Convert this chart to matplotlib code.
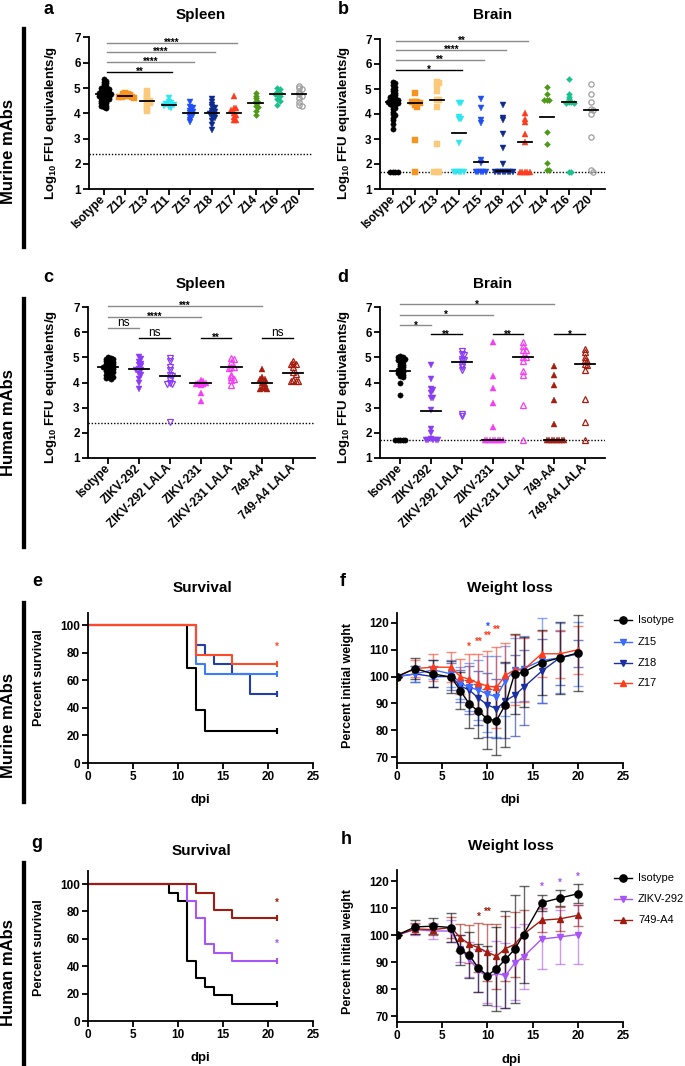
import numpy as np
import matplotlib.pyplot as plt
from matplotlib.lines import Line2D

plt.rcParams['font.family'] = ['Liberation Sans', 'DejaVu Sans']
plt.rcParams['font.weight'] = 'bold'
plt.rcParams['axes.linewidth'] = 1.3
plt.rcParams['xtick.major.width'] = 1.3
plt.rcParams['ytick.major.width'] = 1.3
plt.rcParams['xtick.major.size'] = 4
plt.rcParams['ytick.major.size'] = 4
plt.rcParams['xtick.labelsize'] = 8.5
plt.rcParams['ytick.labelsize'] = 8.5

# ---------------- data: viral burden (log10 FFU eq/g) ----------------
mur_groups = ['Isotype', 'Z12', 'Z13', 'Z11', 'Z15', 'Z18', 'Z17', 'Z14', 'Z16', 'Z20']
hum_groups = ['Isotype', 'ZIKV-292', 'ZIKV-292 LALA', 'ZIKV-231', 'ZIKV-231 LALA', '749-A4', '749-A4 LALA']

a_iso = [5.35, 5.3, 5.25, 5.2, 5.15, 5.1, 5.05, 5.0, 5.0, 4.95, 4.95, 4.9, 4.9, 4.85, 4.85, 4.8, 4.8, 4.8, 4.75,
         4.75, 4.75, 4.7, 4.7, 4.7, 4.65, 4.65, 4.6, 4.6, 4.55, 4.55, 4.5, 4.5, 4.45, 4.4, 4.4, 4.35, 4.3, 4.3, 4.25, 4.2]
a_z12 = [4.8, 4.78, 4.75, 4.72, 4.7, 4.68, 4.66, 4.65, 4.63, 4.62]
a_z13 = [4.9, 4.75, 4.65, 4.55, 4.5, 4.45, 4.4, 4.3, 4.2, 4.1]
a_z11 = [4.6, 4.45, 4.4, 4.38, 4.35, 4.33, 4.3, 4.3, 4.25, 4.2]
a_z15 = [4.45, 4.25, 4.2, 4.1, 4.05, 4.0, 3.95, 3.85, 3.75, 3.65]
a_z18 = [4.55, 4.45, 4.35, 4.25, 4.2, 4.1, 4.05, 4.0, 3.98, 3.95, 3.85, 3.8, 3.7, 3.55, 3.35]
a_z17 = [4.7, 4.2, 4.2, 4.15, 4.0, 3.95, 3.85, 3.75, 3.75]
a_z14 = [4.8, 4.7, 4.6, 4.5, 4.45, 4.4, 4.3, 4.25, 4.1, 3.95]
a_z16 = [5.0, 4.95, 4.85, 4.8, 4.75, 4.75, 4.7, 4.55, 4.5, 4.35]
a_z20 = [5.1, 5.0, 4.95, 4.85, 4.75, 4.7, 4.6, 4.45, 4.35, 4.3]
a_medians = [4.75, 4.7, 4.48, 4.33, 4.0, 4.02, 4.0, 4.43, 4.75, 4.75]
a_brackets = [(0, 3, 5.64, '**'), (0, 4, 6.03, '****'), (0, 5, 6.43, '****'), (0, 6, 6.8, '****')]

b_iso = [5.3, 5.25, 5.15, 5.1, 5.0, 4.95, 4.9, 4.85, 4.8, 4.75, 4.7, 4.7, 4.65, 4.6, 4.6, 4.55, 4.55, 4.5, 4.5, 4.5,
         4.45, 4.45, 4.4, 4.4, 4.35, 4.3, 4.25, 4.2, 4.1, 4.0, 3.95, 3.85, 3.75, 3.6, 3.4, 1.7, 1.7, 1.7, 1.7]
b_z12 = [4.85, 4.5, 4.45, 4.5, 4.35, 4.3, 4.5, 2.95, 1.7]
b_z13 = [5.3, 5.25, 5.15, 4.9, 4.55, 4.55, 4.3, 2.8, 1.7, 1.7, 1.7]
b_z11 = [4.45, 4.45, 3.9, 3.8, 3.8, 2.85, 1.7, 1.7, 1.7, 1.7, 1.7]
b_z15 = [4.6, 4.25, 3.75, 3.65, 2.15, 2.05, 1.7, 1.7, 1.7, 1.7, 1.7]
b_z18 = [4.35, 3.85, 3.75, 3.2, 2.65, 2.0, 1.7, 1.7, 1.7, 1.7, 1.7, 1.7, 1.7, 1.7]
b_z17 = [4.05, 3.8, 3.7, 3.2, 2.9, 1.7, 1.7, 1.7, 1.7, 1.7]
b_z14 = [5.1, 4.8, 4.55, 4.55, 4.55, 3.3, 2.8, 2.05, 1.75, 1.75]
b_z16 = [5.4, 4.8, 4.7, 4.6, 4.5, 4.5, 4.45, 4.45, 1.7, 1.7]
b_z20 = [5.2, 4.8, 4.5, 4.2, 4.15, 4.0, 3.1, 1.7, 1.75]
b_medians = [4.5, 4.45, 4.55, 3.25, 2.1, 1.72, 2.88, 3.9, 4.5, 4.15]
b_brackets = [(0, 3, 5.76, '*'), (0, 4, 6.16, '**'), (0, 5, 6.56, '****'), (0, 6, 6.92, '**')]

c_iso = [5.0, 4.98, 4.95, 4.92, 4.9, 4.88, 4.85, 4.82, 4.8, 4.78, 4.75, 4.72, 4.7, 4.68, 4.65, 4.62, 4.6, 4.6,
         4.58, 4.55, 4.52, 4.5, 4.48, 4.45, 4.42, 4.4, 4.35, 4.3, 4.28, 4.25, 4.22, 4.2, 4.18, 4.15]
c_292 = [5.0, 4.95, 4.8, 4.75, 4.7, 4.65, 4.55, 4.5, 4.5, 4.35, 4.3, 4.15, 4.0, 3.75]
c_292l = [4.98, 4.85, 4.6, 4.5, 4.28, 4.25, 4.1, 4.0, 3.95, 3.95, 2.42]
c_231 = [4.1, 4.05, 4.0, 4.0, 3.98, 3.95, 3.95, 3.9, 3.6, 3.25]
c_231l = [4.98, 4.95, 4.8, 4.6, 4.6, 4.58, 4.3, 4.2, 4.15, 4.1, 3.9]
c_a4 = [4.55, 4.2, 4.15, 4.15, 4.0, 3.95, 3.8, 3.8, 3.75, 3.75]
c_a4l = [4.85, 4.75, 4.75, 4.75, 4.6, 4.4, 4.35, 4.1, 4.05, 4.05, 4.05]
c_medians = [4.62, 4.52, 4.27, 3.98, 4.6, 3.97, 4.37]
c_brackets = [(0, 5, 7.04, '***'), (0, 3, 6.6, '****'), (0, 1, 6.17, 'ns'),
              (1, 2, 5.77, 'ns'), (3, 4, 5.77, '**'), (5, 6, 5.77, 'ns')]

d_iso = [5.05, 5.0, 5.0, 4.95, 4.92, 4.9, 4.88, 4.85, 4.8, 4.75, 4.7, 4.65, 4.6, 4.55, 4.5, 4.48, 4.45, 4.4,
         4.38, 4.35, 4.3, 4.25, 4.2, 4.0, 3.5, 1.7, 1.7, 1.7, 1.7, 1.7]
d_292 = [4.7, 4.15, 3.75, 3.7, 3.6, 3.4, 3.4, 2.9, 2.15, 2.0, 1.75, 1.7, 1.7, 1.7, 1.7, 1.7]
d_292l = [5.25, 5.15, 5.1, 4.95, 4.9, 4.85, 4.7, 4.6, 4.5, 2.75, 2.65]
d_231 = [5.6, 4.25, 3.8, 3.2, 2.25, 1.7, 1.7, 1.7, 1.7, 1.7, 1.7, 1.7, 1.7]
d_231l = [5.6, 5.45, 5.3, 5.3, 5.0, 5.0, 4.85, 4.45, 4.3, 3.1, 1.7]
d_a4 = [4.65, 4.3, 3.9, 3.3, 2.35, 1.7, 1.7, 1.7, 1.7, 1.7, 1.7, 1.7, 1.7]
d_a4l = [5.35, 5.2, 5.0, 4.9, 4.85, 4.75, 4.7, 4.5, 3.35, 2.45, 1.7]
d_medians = [4.47, 2.85, 4.8, 1.7, 5.0, 1.7, 4.75]
d_brackets = [(0, 5, 7.1, '*'), (0, 3, 6.68, '*'), (0, 1, 6.28, '*'),
              (1, 2, 5.92, '**'), (3, 4, 5.92, '**'), (5, 6, 5.92, '*')]

# ---------------- data: survival ----------------
e_iso_t = [0, 11, 12, 13, 21]
e_iso_s = [100, 69.2, 38.5, 23.1, 23.1]
e_z15_t = [0, 12, 13, 21]
e_z15_s = [100, 71.4, 64.3, 64.3]
e_z18_t = [0, 12, 13, 14, 16, 18, 21]
e_z18_s = [100, 85.7, 78.6, 71.4, 64.3, 50, 50]
e_z17_t = [0, 12, 16, 21]
e_z17_s = [100, 78.6, 71.4, 71.4]

g_iso_t = [0, 9, 10, 11, 12, 13, 14, 16, 21]
g_iso_s = [100, 93.75, 87.5, 43.75, 31.25, 25, 18.75, 12.5, 12.5]
g_292_t = [0, 11, 12, 13, 14, 16, 21]
g_292_s = [100, 87.5, 75, 56.25, 50, 43.75, 43.75]
g_a4_t = [0, 12, 14, 16, 21]
g_a4_s = [100, 93.75, 81.25, 75, 75]

# ---------------- data: weight ----------------
days = [0, 2, 4, 6, 7, 8, 9, 10, 11, 12, 13, 14, 16, 18, 20]
f_iso = [100, 103, 101, 99.8, 94.8, 89.8, 87.1, 84.2, 83.6, 89.6, 101, 101.6, 105.2, 107, 108.8]
f_iso_err = [0, 4, 5, 6, 7, 9, 10, 11, 13, 16, 15, 13, 12, 13.5, 14]
f_z15 = [100, 101, 102.5, 101, 97.5, 96, 95, 93.5, 92.5, 98.5, 102.5, 103, 106, 107, 108.5]
f_z15_err = [0, 3, 3.5, 5, 6, 9, 11, 14, 15, 13, 12, 12, 16, 13, 12]
f_z18 = [100, 101, 100, 100, 96.5, 95, 92, 89.5, 88, 91, 93, 96, 102, 107, 108.5]
f_z18_err = [0, 3, 4, 5, 6, 9, 10, 12, 11, 14, 15, 14, 12, 10, 5]
f_z17 = [100, 103, 103.5, 103.5, 100, 99, 97.5, 96.5, 96, 100.5, 102.5, 102.5, 108.5, 108.5, 110]
f_z17_err = [0, 3, 5, 5.5, 6.5, 9.5, 11, 13, 15, 12, 13, 12, 8.5, 9, 9]
f_stars = [(8, 111.2, '*', 'r'), (9, 112.8, '**', 'r'), (10, 115.3, '**', 'r'), (11, 117.6, '**', 'r'),
           (10, 118.6, '*', 'b')]

h_iso = [100, 103, 103.3, 102.8, 94.5, 92.5, 87.8, 85, 87.5, 91, 94.7, 100.2, 112, 113.7, 115.3]
h_iso_err = [0, 2.5, 3, 5.5, 5.5, 8.5, 9, 11, 15.5, 18, 20, 18, 3, 3, 3.5]
h_292 = [100, 102, 101.5, 101.5, 95, 91, 87, 84.5, 85.8, 85, 89.5, 92, 98.5, 99.3, 100.2]
h_292_err = [0, 2, 3, 4, 5, 6.5, 8, 9.5, 12, 12, 13.5, 12, 11, 10, 11]
h_a4 = [100, 102.3, 102, 102.8, 99, 96.7, 95.3, 93.6, 92.2, 95, 96.5, 100.3, 105.5, 106, 107.3]
h_a4_err = [0, 2, 2, 4, 5, 7, 9, 10.5, 12, 12, 12, 9, 4.5, 4.5, 4]
h_stars = [(9, 106.7, '*', 'r'), (10, 108.6, '**', 'r'), (16, 117.8, '*', 'p'), (18, 119.5, '*', 'p'),
           (20, 121.6, '*', 'p')]

# ---------------- styles ----------------
mur_colors = ['black', '#F7931E', '#FBC97A', '#2DE6F0', '#1F4FF5', '#0F2A8F', '#FF3B1C', '#4C9A15', '#19C28C', '#9E9E9E']
mur_markers = ['o', 's', 's', 'v', 'v', 'v', '^', 'D', 'D', 'o']
mur_open = [False] * 9 + [True]
hum_colors = ['black', '#8B3DF5', '#8B3DF5', '#F53DF5', '#F53DF5', '#A61C0E', '#A61C0E']
hum_markers = ['o', 'v', 'v', '^', '^', '^', '^']
hum_open = [False, False, True, False, True, False, True]
PURPLE = '#A855F7'
DARKRED = '#A01C10'
star_col = {'r': '#FF3B1C', 'b': '#1F4FF5', 'p': PURPLE}
star_col_h = {'r': DARKRED, 'p': PURPLE}

W, H = 685, 1066
fig = plt.figure(figsize=(W / 100, H / 100), dpi=100)


def px_axes(l, t, r, b):
    return fig.add_axes([l / W, 1 - b / H, (r - l) / W, (b - t) / H])


def ftext(x, y, s, **kw):
    fig.text(x / W, 1 - y / H, s, **kw)


def swarm(vals, px_x, px_y, d=2.5, step=1.25):
    vals = np.asarray(vals, float)
    offs = np.zeros(len(vals))
    placed = []
    cands = [0.0] + [s * j * step for j in range(1, 60) for s in (1, -1)]
    for i in np.argsort(-vals, kind='stable'):
        y = vals[i] * px_y
        for c in cands:
            if all((c - px) ** 2 + (y - py) ** 2 >= d * d for px, py in placed):
                break
        placed.append((c, y))
        offs[i] = c / px_x
    return offs


def style_axes(ax):
    ax.spines['top'].set_visible(False)
    ax.spines['right'].set_visible(False)
    ax.tick_params(pad=2)


def scatter_panel(ax, labels, data, medians, colors, markers, opens, px_x, lod, brackets, xlim, shift, murine):
    for i, vals in enumerate(data):
        vals = np.asarray(vals, float)
        offs = swarm(vals, px_x, 25.1)
        ms = {'o': 3.8, 's': 3.8, 'v': 4.4, '^': 4.4, 'D': 3.0}[markers[i]]
        ax.plot(i + offs, vals, linestyle='none', marker=markers[i], ms=ms,
                mfc='none' if opens[i] else colors[i], mec=colors[i],
                mew=0.9 if opens[i] else 0.3, zorder=3, clip_on=False)
        ax.plot([i - 0.33, i + 0.33], [medians[i]] * 2, color='black', lw=1.3, zorder=4)
    ax.axhline(lod, color='black', lw=1, ls=(0, (1, 1.3)), zorder=1)
    for k, (i, j, y, lab) in enumerate(brackets):
        gray = i == 0 and (k > 0 or not murine)
        ax.plot([i + shift, j + shift], [y, y], color='#8a8a8a' if gray else 'black', lw=1, clip_on=False)
        if lab == 'ns':
            ax.text((i + j) / 2 + shift, y + 0.07, lab, ha='center', va='baseline',
                    fontsize=8.5, fontweight='normal')
        else:
            ax.text((i + j) / 2 + shift, y - 0.13, lab, ha='center', va='baseline', fontsize=7)
    ax.set_xlim(*xlim)
    ax.set_ylim(1, 7)
    ax.set_yticks(range(1, 8))
    ax.set_xticks(range(len(labels)))
    ax.set_xticklabels(labels, rotation=45, ha='right', va='center', rotation_mode='anchor')
    ax.tick_params(axis='x', pad=5)
    style_axes(ax)


def survival_panel(ax, curves, stars):
    for t, s, col in curves:
        ax.step(t, s, where='post', color=col, lw=1.5)
        ax.plot(t[-1], s[-1], marker='|', ms=4, mew=1.5, color=col)
    for x, y, col in stars:
        ax.text(x, y, '*', color=col, ha='center', va='center', fontsize=7)
    ax.set_xlim(0, 25)
    ax.set_xticks(range(0, 26, 5))
    ax.set_yticks(range(0, 101, 20))
    style_axes(ax)


def weight_panel(ax, series, stars, ylim):
    for y, err, col, mk, ms in series:
        line, caps, bars = ax.errorbar(days, y, yerr=err, color=col, marker=mk, ms=ms, lw=1,
                                       elinewidth=1, capsize=3.5, capthick=1, ecolor=col)
        for art in list(caps) + list(bars):
            art.set_alpha(0.6)
    for x, y, lab, col in stars:
        ax.text(x, y, lab, color=col, ha='center', va='center', fontsize=7)
    ax.set_xlim(0, 25)
    ax.set_ylim(*ylim)
    ax.set_xticks(range(0, 26, 5))
    ax.set_yticks(range(70, 121, 10))
    style_axes(ax)


# panel a
ax = px_axes(89, 37.5, 313, 189.3)
scatter_panel(ax, mur_groups, [a_iso, a_z12, a_z13, a_z11, a_z15, a_z18, a_z17, a_z14, a_z16, a_z20],
              a_medians, mur_colors, mur_markers, mur_open, 21.6, 2.4, a_brackets, (-0.67, 9.64), 0.15, True)
# panel b
ax = px_axes(380, 39, 605, 189)
scatter_panel(ax, mur_groups, [b_iso, b_z12, b_z13, b_z11, b_z15, b_z18, b_z17, b_z14, b_z16, b_z20],
              b_medians, mur_colors, mur_markers, mur_open, 22, 1.7, b_brackets, (-0.59, 9.64), 0.15, True)
# panel c
ax = px_axes(88, 307, 315, 458)
scatter_panel(ax, hum_groups, [c_iso, c_292, c_292l, c_231, c_231l, c_a4, c_a4l],
              c_medians, hum_colors, hum_markers, hum_open, 30.8, 2.4, c_brackets, (-0.65, 6.71), 0, False)
# panel d
ax = px_axes(380, 307, 605, 458)
scatter_panel(ax, hum_groups, [d_iso, d_292, d_292l, d_231, d_231l, d_a4, d_a4l],
              d_medians, hum_colors, hum_markers, hum_open, 30.8, 1.7, d_brackets, (-0.65, 6.65), 0, False)

# panel e
ax = px_axes(88, 613, 313, 763)
survival_panel(ax, [(e_iso_t, e_iso_s, 'black'), (e_z18_t, e_z18_s, '#2340A8'),
                    (e_z15_t, e_z15_s, '#3D7BFF'), (e_z17_t, e_z17_s, '#FF4A2A')],
               [(21, 84, '#FF4A2A')])
ax.set_ylim(0, 108.7)
# panel g
ax = px_axes(88, 871, 313, 1021)
survival_panel(ax, [(g_iso_t, g_iso_s, 'black'), (g_292_t, g_292_s, PURPLE), (g_a4_t, g_a4_s, DARKRED)],
               [(21, 86, DARKRED), (21, 56, PURPLE)])
ax.set_ylim(0, 109.5)

# panel f
ax = px_axes(397, 613, 623, 763)
weight_panel(ax, [(f_z18, f_z18_err, '#1A2FA0', 'v', 4.6), (f_z15, f_z15_err, '#3D6BFF', 'v', 4.6),
                  (f_z17, f_z17_err, '#FF3B1C', '^', 4.6), (f_iso, f_iso_err, 'black', 'o', 5.2)],
             [(x, y, l, star_col[c]) for x, y, l, c in f_stars], (67.8, 123.7))
# panel h
ax = px_axes(397, 870, 623, 1022)
weight_panel(ax, [(h_292, h_292_err, PURPLE, 'v', 4.6), (h_a4, h_a4_err, DARKRED, '^', 4.6),
                  (h_iso, h_iso_err, 'black', 'o', 5.2)],
             [(x, y, l, star_col_h[c]) for x, y, l, c in h_stars], (67.8, 124.1))

# legends (drawn at figure level)
for (y, lab, col, mk, ms) in [(620, 'Isotype', 'black', 'o', 5.2), (642, 'Z15', '#3D6BFF', 'v', 4.6),
                              (663, 'Z18', '#1A2FA0', 'v', 4.6), (683, 'Z17', '#FF3B1C', '^', 4.6),
                              (878, 'Isotype', 'black', 'o', 5.2), (899, 'ZIKV-292', PURPLE, 'v', 4.6),
                              (920, '749-A4', DARKRED, '^', 4.6)]:
    fig.add_artist(Line2D([614 / W, 632 / W], [1 - y / H] * 2, color=col, lw=1, transform=fig.transFigure))
    fig.add_artist(Line2D([623 / W], [1 - y / H], color=col, marker=mk, ms=ms, transform=fig.transFigure))
    ftext(638, y, lab, ha='left', va='center', fontsize=8, fontweight='normal')

# titles, panel letters, axis labels
for x, y, s in [(201, 15, 'Spleen'), (493, 15, 'Brain'), (201, 284, 'Spleen'), (493, 284, 'Brain'),
                (202, 588, 'Survival'), (510, 588, 'Weight loss'), (201, 851, 'Survival'),
                (511, 846, 'Weight loss')]:
    ftext(x, y, s, ha='center', va='center', fontsize=11)
for x, y, s in [(48, 9, 'a'), (343, 9, 'b'), (48, 278, 'c'), (343, 278, 'd'), (37, 582, 'e'),
                (343, 582, 'f'), (37, 843, 'g'), (346, 840, 'h')]:
    ftext(x, y, s, ha='center', va='center', fontsize=13)
ylab = r'Log$_{\mathregular{10}}$ FFU equivalents/g'
for x, y in [(51, 123), (344, 123), (51, 387), (344, 387)]:
    ftext(x, y, ylab, rotation=90, ha='center', va='center', fontsize=9.5)
for x, y in [(39, 678), (39, 948)]:
    ftext(x, y, 'Percent survival', rotation=90, ha='center', va='center', fontsize=9)
for x, y in [(348, 686), (348, 951)]:
    ftext(x, y, 'Percent initial weight', rotation=90, ha='center', va='center', fontsize=9)
for x, y in [(200, 800), (510, 800), (200, 1058), (511, 1060)]:
    ftext(x, y, 'dpi', ha='center', va='center', fontsize=9.5)

# side group labels with bars
for (y0, y1), (ty, s) in zip([(29, 247), (299, 547), (603, 802), (863, 1070)],
                             [(151, 'Murine mAbs'), (423, 'Human mAbs'), (725, 'Murine mAbs'), (973, 'Human mAbs')]):
    fig.add_artist(Line2D([24 / W] * 2, [1 - y0 / H, 1 - y1 / H], color='black', lw=3.1,
                          transform=fig.transFigure))
    ftext(9, ty, s, rotation=90, ha='center', va='center', fontsize=12)

fig.savefig('out.png', dpi=100)
